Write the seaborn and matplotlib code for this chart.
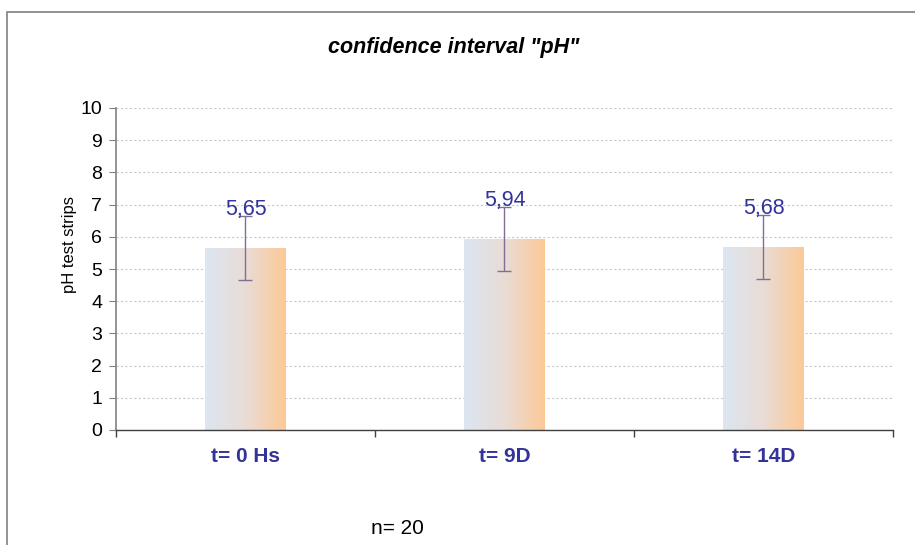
import numpy as np
import pandas as pd
import seaborn as sns
import matplotlib.pyplot as plt
from matplotlib.colors import LinearSegmentedColormap
from matplotlib.patches import Rectangle

# datos
categorias = ["t= 0 Hs", "t= 9D", "t= 14D"]
valores = [5.65, 5.94, 5.68]
errores = [1.0, 1.0, 1.0]
etiquetas = ["5,65", "5,94", "5,68"]
n_muestra = 20

sns.set_style("white")
plt.rcParams["font.family"] = ["Liberation Sans", "DejaVu Sans"]
plt.rcParams["text.color"] = "black"
plt.rcParams["axes.labelcolor"] = "black"
plt.rcParams["ytick.labelcolor"] = "black"

fig = plt.figure(figsize=(9.15, 5.45), dpi=100)
ax = fig.add_axes([116 / 915, 1 - 430 / 545, (893 - 116) / 915, 322 / 545])

df = pd.DataFrame({"cat": categorias, "val": valores})
sns.barplot(data=df, x="cat", y="val", width=0.31, color="white", ax=ax, zorder=2)

# degradado en las barras
cmap = LinearSegmentedColormap.from_list("grad", ["#dce6f1", "#e9dcd6", "#fdc996"])
grad = np.linspace(0, 1, 256).reshape(1, -1)
for p in ax.patches:
    x0, y0 = p.get_x(), p.get_y()
    w, h = p.get_width(), p.get_height()
    p.set_edgecolor("none")
    im = ax.imshow(grad, cmap=cmap, extent=[x0, x0 + w, y0, y0 + h],
                   aspect="auto", zorder=2, interpolation="bilinear")
    im.set_clip_path(p)

# barras de error
ax.errorbar(range(len(valores)), valores, yerr=errores, fmt="none",
            ecolor="#7f6f93", elinewidth=1, capsize=5, capthick=1, zorder=3)

for i, (v, t) in enumerate(zip(valores, etiquetas)):
    ax.text(i, v + 1.2, t, ha="center", va="center", fontsize=15.5,
            color="#333399", zorder=4)

ax.set_xlim(-0.5, 2.5)
ax.set_ylim(0, 10)
ax.set_yticks(range(0, 11))
ax.yaxis.grid(True, linestyle=(0, (2, 2)), color="#c8c8c8", linewidth=0.8)
ax.set_axisbelow(True)

ax.set_xticks(range(len(categorias)))
ax.set_xticklabels(categorias, fontsize=15, fontweight="bold", color="#333399")
ax.set_xticks([-0.5, 0.5, 1.5, 2.5], minor=True)
ax.tick_params(axis="x", which="major", length=0, pad=12)
ax.tick_params(axis="x", which="minor", length=5, direction="out",
               color="#404040", width=1, bottom=True)
ax.tick_params(axis="y", length=5, direction="out", color="#808080",
               labelsize=14, left=True, pad=5, labelcolor="black")

for s in ["top", "right"]:
    ax.spines[s].set_visible(False)
ax.spines["left"].set_color("#808080")
ax.spines["bottom"].set_color("#404040")
ax.spines["left"].set_linewidth(1.2)
ax.spines["bottom"].set_linewidth(1)

ax.set_xlabel("")
ax.set_ylabel("pH test strips", fontsize=12, color="black")
ax.yaxis.set_label_coords(-0.05, 0.575)

fig.text(454 / 915, 1 - 48 / 545, 'confidence interval "pH"', ha="center",
         va="center", fontsize=15.5, fontweight="bold", style="italic",
         color="black")
fig.text(397 / 915, 1 - 528 / 545, f"n= {n_muestra}", ha="center",
         va="center", fontsize=15, color="black")

# marco de la figura
fig.add_artist(Rectangle((7 / 915, -0.1), 1.2, 1 - 12 / 545 + 0.1,
                         transform=fig.transFigure, fill=False,
                         edgecolor="#808080", linewidth=1.2))

fig.savefig("out.png", dpi=100)
